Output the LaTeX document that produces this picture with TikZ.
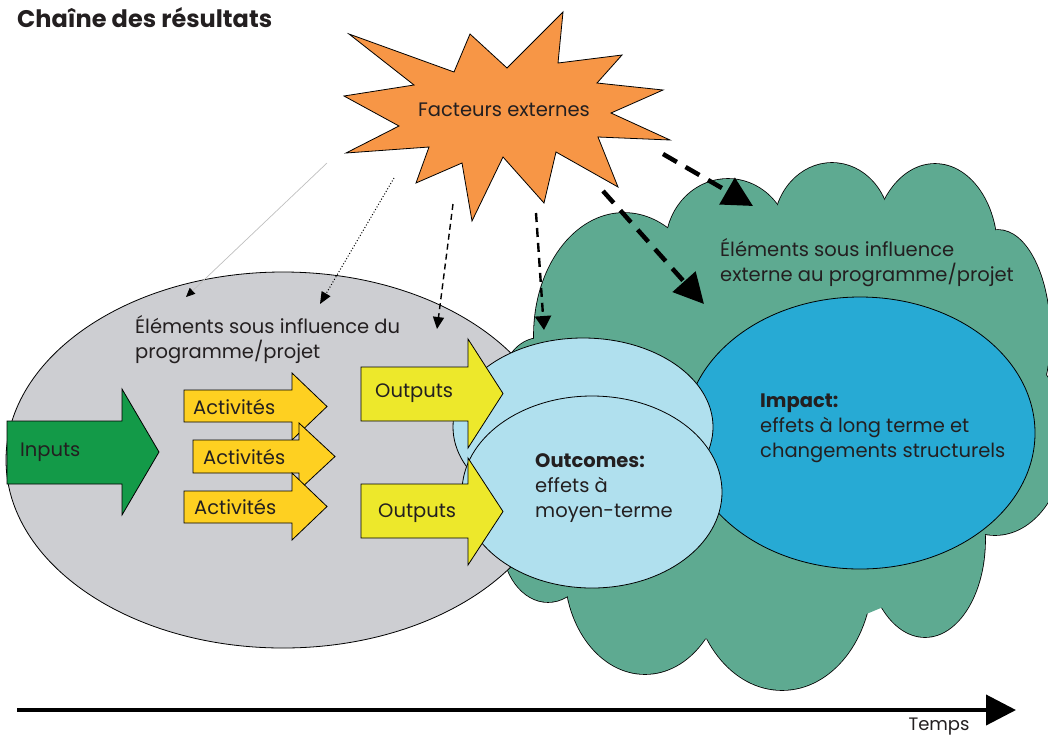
\documentclass[tikz,border=0pt]{standalone}
\usepackage{fontspec}
\setmainfont{Poppins}
\usetikzlibrary{arrows.meta}
\definecolor{starc}{RGB}{247,150,70}
\definecolor{grayc}{RGB}{205,206,210}
\definecolor{cloudc}{RGB}{94,170,145}
\definecolor{impc}{RGB}{39,170,212}
\definecolor{outc}{RGB}{176,224,238}
\definecolor{inpc}{RGB}{19,154,72}
\definecolor{actc}{RGB}{254,208,33}
\definecolor{outpc}{RGB}{237,232,43}
\definecolor{txt}{RGB}{35,31,32}
\newcommand\blockarr[8]{%
  \filldraw[fill=#1, draw=black, line width=0.8pt]
  (#2,#3) -- (#5,#3) -- (#5,#6) -- (#8,{(#6+#7)/2}) -- (#5,#7) -- (#5,#4) -- (#2,#4) -- cycle;}
\tikzset{
  lbl/.style={text=txt, inner sep=0pt, anchor=west, align=left, font=\fontsize{19.5}{25}\selectfont},
  shapeline/.style={draw=black, line width=0.8pt},
}
\begin{document}
\begin{tikzpicture}[x=1pt,y=-1pt]
\useasboundingbox (0,0) rectangle (1048,737);
\clip (0,0) rectangle (1048,737);
% cloud
\def\bumps{624/335/90/122, 728/245/62/66, 832/228/58/65, 935/250/62/86, 998/335/52/105,
  995/440/70/95, 925/540/60/97, 782/575/90/115, 645/570/80/104, 548/540/46/62, 540/390/40/52}
\foreach \cx/\cy/\rx/\ry in \bumps {
  \draw[line width=1.6pt] (\cx,\cy) ellipse [x radius=\rx pt, y radius=\ry pt];
}
\foreach \cx/\cy/\rx/\ry in \bumps {
  \fill[cloudc] (\cx,\cy) ellipse [x radius=\rx pt, y radius=\ry pt];
}
\fill[cloudc] (560,330) -- (650,240) -- (760,215) -- (860,200) -- (950,220) -- (1010,300)
  -- (1030,400) -- (990,520) -- (900,600) -- (780,650) -- (650,630) -- (560,570) -- (530,450) -- cycle;
% gray ellipse
\filldraw[fill=grayc, shapeline] (283,460) ellipse [x radius=277pt, y radius=188pt];
% impact
\filldraw[fill=impc, shapeline] (860,433) ellipse [x radius=175pt, y radius=136pt];
% outcomes
\filldraw[fill=outc, shapeline] (583,427) ellipse [x radius=130pt, y radius=89pt];
\filldraw[fill=outc, shapeline] (592,492) ellipse [x radius=130pt, y radius=96pt];
% block arrows
\blockarr{inpc}{7}{421}{484}{122}{389}{515}{159}
\blockarr{actc}{184}{390}{422}{292}{373}{440}{327}
\blockarr{actc}{193}{440}{473}{299}{423}{490}{335}
\blockarr{actc}{184}{491}{523}{292}{473}{540}{327}
\blockarr{outpc}{361}{367}{421}{468}{339}{448}{503}
\blockarr{outpc}{361}{484}{538}{468}{458}{565}{503}
% star
\filldraw[fill=starc, shapeline, line join=miter]
  (349,34) -- (454,72) -- (470,34) -- (507,68) -- (563,12) -- (558,63) -- (622,55) -- (597,83)
  -- (663,90) -- (611,113) -- (670,140) -- (598,137) -- (618,187) -- (556,152) -- (544,203)
  -- (503,157) -- (472,221) -- (462,163) -- (416,183) -- (429,147) -- (346,153) -- (399,126)
  -- (344,96) -- (414,85) -- cycle;
\node[text=txt, inner sep=0pt, font=\fontsize{19.5}{25}\selectfont] (fact) at (504,110) {Facteurs externes};
% influence arrows
\coordinate (s1) at (327,163); \coordinate (e1) at (186,297);
\coordinate (s2) at (394,178); \coordinate (e2) at (320,304);
\coordinate (s3) at (453,204); \coordinate (e3) at (437,329);
\coordinate (s4) at (536,213); \coordinate (e4) at (544,330);
\coordinate (s5) at (663,154); \coordinate (e5) at (753,206);
\coordinate (s6) at (603,191); \coordinate (e6) at (704,304);
\draw[black!25, line width=0.7pt, -{Triangle[length=9pt,width=8pt,fill=black,color=black]}] (s1) -- (e1);
\draw[line width=1pt, dotted, -{Triangle[length=12pt,width=10pt]}] (s2) -- (e2);
\draw[line width=1.4pt, dash pattern=on 6pt off 4pt, -{Triangle[length=12pt,width=11pt]}] (s3) -- (e3);
\draw[line width=2.4pt, dash pattern=on 9pt off 6pt, -{Triangle[length=14pt,width=16pt]}] (s4) -- (e4);
\draw[line width=4.5pt, dash pattern=on 16pt off 10pt, -{Triangle[length=30pt,width=30pt]}] (s5) -- (e5);
\draw[line width=4.5pt, dash pattern=on 16pt off 10pt, -{Triangle[length=30pt,width=30pt]}] (s6) -- (e6);
% labels
\node[lbl] (prog) at (135,340) {Éléments sous influence du\\programme/projet};
\node[lbl] (ext) at (720,263) {Éléments sous influence\\externe au programme/projet};
\node[lbl] (imp) at (760,428) {\textbf{Impact:}\\effets à long terme et\\changements structurels};
\node[lbl] (outc) at (535,488) {\textbf{Outcomes:}\\effets à\\moyen-terme};
\node[lbl] (inp) at (20,452) {Inputs};
\node[lbl] (a1) at (193,407) {Activités};
\node[lbl] (a2) at (203,457) {Activités};
\node[lbl] (a3) at (194,507) {Activités};
\node[lbl] (o1) at (375,393) {Outputs};
\node[lbl] (o2) at (378,513) {Outputs};
% timeline
\coordinate (t0) at (17,710); \coordinate (t1) at (1016,710);
\draw[line width=4pt, -{Triangle[length=30pt,width=30pt]}] (t0) -- (t1);
\node[text=txt, inner sep=0pt, font=\fontsize{18}{20}\selectfont] (temps) at (939,727) {Temps};
% title
\node[text=txt, inner sep=0pt, anchor=west, font=\fontsize{24}{28}\selectfont\bfseries] (title) at (17,18) {Chaîne des résultats};
\end{tikzpicture}
\end{document}
